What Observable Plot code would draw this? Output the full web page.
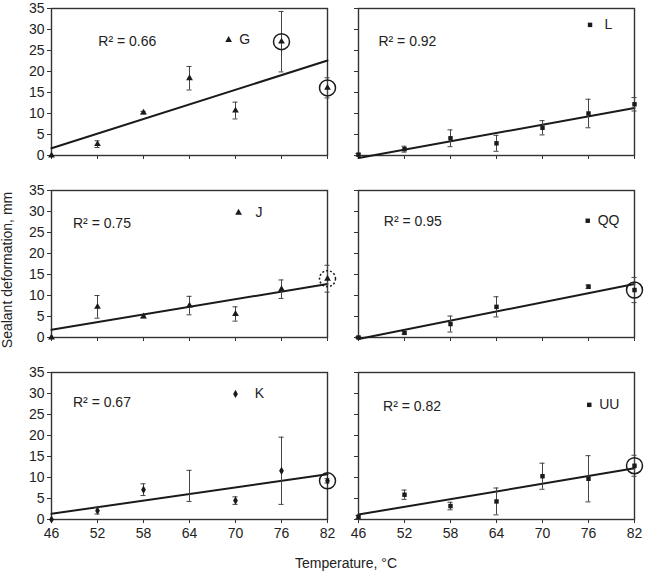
<!DOCTYPE html>
<html>
<head>
<meta charset="utf-8">
<script src="https://cdn.jsdelivr.net/npm/d3@7"></script>
<script src="https://cdn.jsdelivr.net/npm/@observablehq/plot@0.6"></script>
<style>
  html, body { margin: 0; padding: 0; background: #fff; }
  #wrap { position: relative; width: 650px; height: 576px; font-family: "Liberation Sans", Arial, sans-serif; color: #222; }
  #ytitle { position: absolute; left: 7px; top: 270px; transform: translate(-50%, -50%) rotate(-90deg); white-space: nowrap; font-size: 14px; }
  #xtitle { position: absolute; left: 346px; top: 552px; transform: translateX(-50%); white-space: nowrap; font-size: 14px; line-height: 22px; }
</style>
</head>
<body>
<div id="wrap">
  <div id="chart"></div>
  <div id="ytitle">Sealant deformation, mm</div>
  <div id="xtitle">Temperature, °C</div>
</div>
<script>
// Test temperatures (°C) and y-axis ticks (mm)
const temperatures = [46, 52, 58, 64, 70, 76, 82];
const deformationTicks = [0, 5, 10, 15, 20, 25, 30, 35];

// Sealants, their marker shapes and the coefficient of determination of each fit
const sealants = ["G", "L", "J", "QQ", "K", "UU"];
const markerSymbols = ["triangle", "square", "triangle", "square", "diamond", "square"];
const rSquared = ["0.66", "0.92", "0.75", "0.95", "0.67", "0.82"];

// Mean deformation (mm) and its spread at each temperature
const meanG  = [0, 2.7, 10.2, 18.4, 10.7, 27.1, 16.1];
const sdG    = [0, 0.8, 0.3, 2.8, 2.0, 7.2, 2.4];
const meanL  = [0.2, 1.5, 4.1, 2.9, 6.6, 10.0, 12.2];
const sdL    = [0.3, 0.7, 2.0, 1.9, 1.7, 3.4, 1.6];
const meanJ  = [0, 7.3, 5.0, 7.6, 5.6, 11.5, 14.0];
const sdJ    = [0, 2.7, 0.3, 2.2, 1.7, 2.2, 3.2];
const meanQQ = [0, 1.1, 3.2, 7.3, null, 12.1, 11.3];
const sdQQ   = [0.2, 0.3, 1.9, 2.4, null, 0.4, 3.0];
const meanK  = [0, 2.1, 7.1, 8.0, 4.5, 11.6, 9.2];
const sdK    = [0, 0.8, 1.4, 3.7, 0.9, 8.0, 0.5];
const meanUU = [0.6, 5.9, 3.2, 4.3, 10.3, 9.7, 12.8];
const sdUU   = [0.4, 1.1, 0.9, 3.2, 3.1, 5.5, 2.5];

// Highlighted measurements (solid ring) and the uncertain one (dotted ring)
const circledSealant = ["G", "G", "QQ", "K", "UU"];
const circledTemp    = [76, 82, 82, 82, 82];
const dottedSealant  = ["J"];
const dottedTemp     = [82];

// Measurement whose marker is not shown (error bar only)
const unmarkedSealant = ["K"];
const unmarkedTemp    = [64];

const means = [meanG, meanL, meanJ, meanQQ, meanK, meanUU];
const sds   = [sdG, sdL, sdJ, sdQQ, sdK, sdUU];

// Annotation placement inside each panel, in data units
const r2LabelX  = [52.1, 48.6, 48.8, 49.3, 48.8, 49.2];
const r2LabelY  = [27.2, 27.2, 27.1, 27.7, 27.8, 27.0];
const keyMarkX  = [69.1, 76.2, 70.4, 75.9, 70.0, 76.1];
const keyMarkY  = [27.5, 31.1, 29.7, 27.8, 29.9, 27.3];
const keyTextX  = [70.5, 78.1, 72.6, 77.2, 72.5, 77.4];

const panels = sealants.map((s, i) => ({
  sealant: s, col: i % 2, row: Math.floor(i / 2), symbol: markerSymbols[i],
  r2: rSquared[i], rx: r2LabelX[i], ry: r2LabelY[i],
  kx: keyMarkX[i], ky: keyMarkY[i], tx: keyTextX[i]
}));

const obs = [];
panels.forEach((p, i) => {
  temperatures.forEach((t, j) => {
    const m = means[i][j];
    if (m == null) return;
    const hidden = unmarkedSealant.some((s, k) => s === p.sealant && unmarkedTemp[k] === t);
    obs.push({sealant: p.sealant, col: p.col, row: p.row, symbol: p.symbol, x: t, y: m, sd: sds[i][j] || 0, hidden});
  });
});

// Least-squares line for each sealant, drawn across the temperature range
const fits = [];
panels.forEach(p => {
  const pts = obs.filter(o => o.sealant === p.sealant);
  const mx = d3.mean(pts, d => d.x), my = d3.mean(pts, d => d.y);
  const sxy = d3.sum(pts, d => (d.x - mx) * (d.y - my));
  const sxx = d3.sum(pts, d => (d.x - mx) ** 2);
  const b = sxy / sxx, a = my - b * mx;
  const x0 = temperatures[0], x1 = temperatures[temperatures.length - 1];
  fits.push({sealant: p.sealant, col: p.col, row: p.row, x: x0, y: a + b * x0});
  fits.push({sealant: p.sealant, col: p.col, row: p.row, x: x1, y: a + b * x1});
});

const findObs = (s, t) => obs.find(o => o.sealant === s && o.x === t);
const circled = circledSealant.map((s, i) => findObs(s, circledTemp[i]));
const dotted = dottedSealant.map((s, i) => findObs(s, dottedTemp[i]));

const bars = obs.filter(o => o.sd > 0);
const capHalf = 0.33;
const ink = "#1a1a1a";

const chart = Plot.plot({
  width: 650,
  height: 552,
  marginLeft: 51,
  marginRight: 15,
  marginTop: 8,
  marginBottom: 32,
  style: {fontFamily: '"Liberation Sans", Arial, sans-serif', fontSize: "14px", color: "#222", background: "#fff"},
  x: {domain: [46, 82]},
  y: {domain: [0, 35]},
  fx: {domain: [0, 1], paddingInner: 0.1008, paddingOuter: 0, axis: null},
  fy: {domain: [0, 1, 2], paddingInner: 0.1907, paddingOuter: 0, axis: null},
  marks: [
    Plot.frame({stroke: "#333", strokeWidth: 1.4}),
    // tick marks on every panel, tick labels on outer panels only
    Plot.axisY({ticks: deformationTicks, tickSize: 4, tickFormat: () => "", label: null, stroke: "#333", facetAnchor: null}),
    Plot.axisY({ticks: deformationTicks, tickSize: 4, tickPadding: 3, label: null, stroke: "#333", fill: "#222", fontSize: 14, facetAnchor: "left"}),
    Plot.axisX({ticks: temperatures, tickSize: 4, tickFormat: () => "", label: null, stroke: "#333", facetAnchor: null}),
    Plot.axisX({ticks: temperatures, tickSize: 4, tickPadding: 5, label: null, stroke: "#333", fill: "#222", fontSize: 14, facetAnchor: "bottom"}),
    // regression lines
    Plot.line(fits, {x: "x", y: "y", z: "sealant", fx: "col", fy: "row", stroke: ink, strokeWidth: 2}),
    // error bars with caps
    Plot.ruleX(bars, {x: "x", y1: d => d.y - d.sd, y2: d => d.y + d.sd, fx: "col", fy: "row", stroke: "#444", strokeWidth: 1}),
    Plot.ruleY(bars, {y: d => d.y + d.sd, x1: d => d.x - capHalf, x2: d => d.x + capHalf, fx: "col", fy: "row", stroke: "#444", strokeWidth: 1}),
    Plot.ruleY(bars, {y: d => d.y - d.sd, x1: d => d.x - capHalf, x2: d => d.x + capHalf, fx: "col", fy: "row", stroke: "#444", strokeWidth: 1}),
    // measurements
    Plot.dot(obs.filter(o => !o.hidden), {x: "x", y: "y", symbol: "symbol", r: 2.5, fill: ink, stroke: "none", fx: "col", fy: "row"}),
    // highlighted measurements
    Plot.dot(circled, {x: "x", y: "y", r: 8, fill: "none", stroke: ink, strokeWidth: 1.5, fx: "col", fy: "row"}),
    Plot.dot(dotted, {x: "x", y: "y", r: 8, fill: "none", stroke: ink, strokeWidth: 1.5, strokeDasharray: "2,2", fx: "col", fy: "row"}),
    // R² labels and per-panel key
    Plot.text(panels, {x: "rx", y: "ry", text: d => `R² = ${d.r2}`, textAnchor: "start", fontSize: 14, fill: "#222", fx: "col", fy: "row"}),
    Plot.dot(panels, {x: "kx", y: "ky", symbol: "symbol", r: 2.5, fill: ink, stroke: "none", fx: "col", fy: "row"}),
    Plot.text(panels, {x: "tx", y: "ky", text: "sealant", textAnchor: "start", fontSize: 14, fill: "#222", fx: "col", fy: "row"})
  ]
});

document.getElementById("chart").appendChild(chart);
</script>
</body>
</html>
